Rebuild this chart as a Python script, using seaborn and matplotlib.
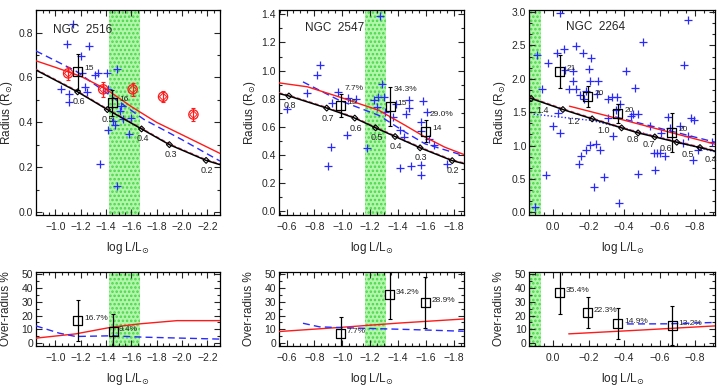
import matplotlib
matplotlib.use("Agg")
import matplotlib.pyplot as plt
from matplotlib.ticker import MultipleLocator, AutoMinorLocator
import seaborn as sns

# ---------------- NGC 2516 ----------------
cross_x_2516 = [-1.139, -1.095, -1.267, -1.198, -1.211, -1.314, -1.339, -1.404, -1.488, -1.044,
                -1.108, -1.108, -1.237, -1.249, -1.416, -1.519, -1.506, -1.596, -1.458, -1.468,
                -1.532, -1.416, -1.584, -1.352, -1.486]
cross_y_2516 = [0.838, 0.748, 0.738, 0.696, 0.618, 0.610, 0.618, 0.618, 0.639, 0.547,
                0.528, 0.492, 0.559, 0.535, 0.550, 0.475, 0.450, 0.420, 0.405, 0.390,
                0.413, 0.364, 0.350, 0.215, 0.118]
lit_x_2516 = [-1.10, -1.377, -1.61, -1.85, -2.09]
lit_y_2516 = [0.618, 0.547, 0.547, 0.514, 0.435]
lit_err_2516 = [0.03, 0.035, 0.03, 0.025, 0.03]
sq_x_2516 = [-1.175, -1.45]
sq_y_2516 = [0.626, 0.487]
sq_err_2516 = [0.08, 0.058]
sq_n_2516 = ["15", "16"]
mod_x_2516 = [-0.846, -1.175, -1.41, -1.68, -1.90, -2.19, -2.30]
mod_y_2516 = [0.633, 0.536, 0.457, 0.371, 0.301, 0.231, 0.212]
mass_2516 = ["0.6", "0.5", "0.4", "0.3", "0.2"]
red_x_2516 = [-0.846, -1.0, -1.2, -1.4, -1.6, -1.8, -2.0, -2.3]
red_y_2516 = [0.674, 0.645, 0.605, 0.548, 0.470, 0.400, 0.345, 0.262]
blue_x_2516 = [-0.846, -1.16, -1.44, -1.70, -2.0, -2.3]
blue_y_2516 = [0.718, 0.629, 0.517, 0.413, 0.323, 0.228]
band_2516 = (-1.42, -1.67)
osq_y_2516 = [16.3, 8.4]
osq_x_2516 = [-1.177, -1.455]
osq_err_2516 = [15.0, 12.5]
opct_2516 = ["16.7%", "9.4%"]
ored_x_2516 = [-0.846, -1.16, -1.44, -1.67, -1.96, -2.3]
ored_y_2516 = [3.6, 6.7, 11.5, 14.0, 16.3, 16.3]
oblue_x_2516 = [-0.846, -1.03, -1.16, -1.44, -1.70, -2.3]
oblue_y_2516 = [12.5, 7.2, 4.8, 5.3, 4.3, 2.9]

# ---------------- NGC 2547 ----------------
cross_x_2547 = [-1.271, -0.839, -0.822, -0.747, -0.605, -0.966, -0.924, -1.042, -1.10, -1.03,
                -0.917, -0.90, -1.179, -1.226, -1.255, -1.283, -1.302, -1.248, -1.307, -1.361,
                -1.385, -1.479, -1.475, -1.456, -1.415, -1.444, -1.415, -1.491, -1.579, -1.605,
                -1.562, -1.567, -1.562, -1.562, -1.621, -1.657, -1.751]
cross_y_2547 = [1.388, 1.043, 0.972, 0.844, 0.725, 0.849, 0.773, 0.808, 0.801, 0.540,
                0.456, 0.321, 0.449, 0.794, 0.813, 0.903, 0.813, 0.742, 0.706, 0.670,
                0.761, 0.794, 0.734, 0.689, 0.580, 0.528, 0.309, 0.321, 0.784, 0.706,
                0.635, 0.570, 0.333, 0.261, 0.516, 0.473, 0.338]
sq_x_2547 = [-0.988, -1.342, -1.598]
sq_y_2547 = [0.753, 0.746, 0.571]
sq_err_2547 = [0.083, 0.14, 0.075]
sq_n_2547 = ["15", "15", "14"]
sq_pct_2547 = ["7.7%", "34.3%", "29.0%"]
mod_x_2547 = [-0.546, -0.617, -0.888, -1.089, -1.238, -1.378, -1.557, -1.787, -1.87]
mod_y_2547 = [0.837, 0.820, 0.734, 0.663, 0.594, 0.532, 0.452, 0.361, 0.340]
mass_2547 = ["0.8", "0.7", "0.6", "0.5", "0.4", "0.3", "0.2"]
red_x_2547 = [-0.546, -0.75, -0.978, -1.262, -1.451, -1.593, -1.735, -1.87]
red_y_2547 = [0.913, 0.885, 0.813, 0.718, 0.611, 0.528, 0.456, 0.405]
blue_x_2547 = [-0.718, -0.978, -1.262, -1.451, -1.593, -1.87]
blue_y_2547 = [0.920, 0.789, 0.682, 0.563, 0.480, 0.397]
band_2547 = (-1.16, -1.31)
osq_x_2547 = [-0.99, -1.34, -1.595]
osq_y_2547 = [6.7, 35.3, 29.3]
osq_err_2547 = [12.0, 17.5, 18.5]
opct_2547 = ["7.7%", "34.2%", "28.9%"]
ored_x_2547 = [-0.548, -1.0, -1.4, -1.87]
ored_y_2547 = [8.4, 11.5, 14.5, 17.5]
oblue_x_2547 = [-0.718, -0.836, -1.0, -1.21, -1.5, -1.87]
oblue_y_2547 = [14.4, 11.8, 11.2, 10.6, 9.8, 8.6]

# ---------------- NGC 2264 ----------------
cross_x_2264 = [-0.039, 0.092, 0.03, -0.022, -0.064, -0.129, -0.167, -0.213, -0.069, -0.11,
                -0.204, -0.21, -0.251, -0.11, -0.088, -0.129, -0.152, -0.185, -0.176, 0.062,
                -0.307, -0.331, -0.358, -0.03, -0.002, -0.039, -0.335, -0.208, -0.242, -0.264,
                -0.185, -0.157, -0.144, -0.288, -0.228, 0.043, -0.369, 0.105, -0.25, -0.31,
                -0.356, -0.375,
                -0.762, -0.506, -0.74, -0.412, -0.463, -0.449, -0.481, -0.44, -0.547, -0.646,
                -0.659, -0.607, -0.715, -0.777, -0.794, -0.762, -0.893, -0.818, -0.787, -0.566,
                -0.585, -0.60, -0.631, -0.575, -0.476, -0.734]
cross_y_2264 = [2.99, 2.35, 2.24, 2.38, 2.44, 2.49, 2.38, 2.31, 2.13, 2.12,
                2.15, 1.97, 1.96, 1.96, 1.84, 1.85, 1.76, 1.82, 1.70, 1.85,
                1.69, 1.73, 1.73, 1.49, 1.29, 1.19, 1.14, 1.01, 1.03, 0.93,
                0.93, 0.85, 0.73, 0.53, 0.38, 0.56, 0.14, 0.08, 1.77, 1.42,
                1.54, 1.62,
                2.88, 2.55, 2.21, 2.12, 1.86, 1.48, 1.48, 1.44, 1.29, 1.43,
                1.26, 1.19, 1.29, 1.42, 1.39, 1.14, 1.06, 0.94, 0.78, 0.89,
                0.89, 0.89, 0.84, 0.64, 0.57, 1.04]
sq_x_2264 = [-0.036, -0.195, -0.365, -0.669]
sq_y_2264 = [2.11, 1.735, 1.477, 1.20]
sq_err_2264 = [0.25, 0.16, 0.14, 0.29]
sq_n_2264 = ["21", "20", "20", "20"]
mod_x_2264 = [0.135, 0.124, -0.055, -0.22, -0.386, -0.479, -0.573, -0.697, -0.828, -0.915]
mod_y_2264 = [1.71, 1.705, 1.54, 1.40, 1.265, 1.19, 1.13, 1.05, 0.97, 0.915]
mass_2264 = ["1.4", "1.2", "1.0", "0.8", "0.7", "0.6", "0.5", "0.4"]
red_x_2264 = [-0.092, -0.4, -0.915]
red_y_2264 = [1.59, 1.38, 1.02]
blue_x_2264 = [-0.35, -0.6, -0.915]
blue_y_2264 = [1.43, 1.26, 1.05]
dot_x_2264 = [0.11, -0.22, -0.40, -0.915]
dot_y_2264 = [1.47, 1.375, 1.26, 0.905]
band_2264 = (0.135, 0.066)
osq_x_2264 = [-0.036, -0.195, -0.365, -0.672]
osq_y_2264 = [36.5, 22.1, 14.4, 12.5]
osq_err_2264 = [15.5, 11.5, 11.2, 14.2]
opct_2264 = ["35.4%", "22.3%", "14.9%", "13.2%"]
ored_x_2264 = [-0.088, -0.5, -0.915]
ored_y_2264 = [6.7, 9.5, 12.5]
oblue_x_2264 = [-0.416, -0.65, -0.915]
oblue_y_2264 = [13.9, 14.0, 15.0]

sns.set_theme(style="ticks")
plt.rcParams["font.family"] = ["Liberation Sans", "DejaVu Sans"]
plt.rcParams["mathtext.fontset"] = "dejavusans"
plt.rcParams["hatch.linewidth"] = 1.2

BLUE = "#2a2aff"
RED = "#ff1a1a"
PT = 0.72  # points per pixel at dpi 100

fig = plt.figure(figsize=(7.19, 3.86), dpi=100)


def style_axes(ax, xlim, ylim, ymajor, yminor_n):
    ax.set_xlim(*xlim)
    ax.set_ylim(*ylim)
    ax.xaxis.set_major_locator(MultipleLocator(0.2))
    ax.xaxis.set_minor_locator(AutoMinorLocator(4))
    ax.yaxis.set_major_locator(MultipleLocator(ymajor))
    ax.yaxis.set_minor_locator(AutoMinorLocator(yminor_n))
    ax.tick_params(which="both", direction="in", top=True, right=True, labelsize=7.5,
                   width=0.8)
    ax.tick_params(axis="x", pad=5)
    ax.tick_params(axis="y", pad=2)
    ax.tick_params(which="major", length=4)
    ax.tick_params(which="minor", length=2)
    for s in ax.spines.values():
        s.set_linewidth(0.9)
        s.set_color("black")
    ax.set_xlabel(r"log L/L$_{\odot}$", fontsize=8.5, labelpad=6)


def band(ax, b):
    ax.axvspan(b[0], b[1], facecolor="#b4f5ad", edgecolor="#46d846", hatch="....",
               lw=0, zorder=0)


def errbars(ax, x, y, err, color="black"):
    ax.errorbar(x, y, yerr=err, fmt="none", ecolor=color, elinewidth=0.9,
                capsize=1.5, capthick=0.8, zorder=4)


def squares(ax, x, y):
    sns.scatterplot(x=x, y=y, marker="s", s=42, facecolor="none", edgecolor="black",
                    linewidth=0.9, ax=ax, zorder=5)


def top_panel(rect, name, namepos, cx, cy, mx, my, masses, mass_off, rx, ry, bx, by,
              b, sx, sy, se, counts, xlim, ylim, ymajor, yminor_n):
    ax = fig.add_axes(rect)
    band(ax, b)
    sns.scatterplot(x=cx, y=cy, marker="+", color=BLUE, s=36, linewidth=0.9, ax=ax, zorder=2)
    sns.lineplot(x=bx, y=by, sort=False, estimator=None, color=BLUE, lw=1.0,
                 linestyle=(0, (5, 3)), ax=ax, zorder=3)
    sns.lineplot(x=rx, y=ry, sort=False, estimator=None, color=RED, lw=1.0, ax=ax, zorder=3)
    sns.lineplot(x=mx, y=[v + 0.004 * ylim[1] for v in my], sort=False, estimator=None,
                 color="#e05070", lw=0.9, linestyle=(0, (3, 2)), ax=ax, zorder=3)
    sns.lineplot(x=mx, y=my, sort=False, estimator=None, color="black", lw=1.1, ax=ax, zorder=3)
    dx = mx[1:1 + len(masses)]
    dy = my[1:1 + len(masses)]
    sns.scatterplot(x=dx, y=dy, marker="D", s=9, facecolor="none", edgecolor="black",
                    linewidth=0.8, ax=ax, zorder=4)
    for xv, yv, m in zip(dx, dy, masses):
        ax.annotate(m, (xv, yv), xytext=(mass_off[0] * PT, mass_off[1] * PT),
                    textcoords="offset points", ha="center", va="center", fontsize=6.5)
    errbars(ax, sx, sy, se)
    squares(ax, sx, sy)
    for xv, yv, n in zip(sx, sy, counts):
        ax.annotate(n, (xv, yv), xytext=(7 * PT, 3 * PT), textcoords="offset points",
                    ha="left", va="center", fontsize=6)
    ax.text(namepos[0], namepos[1], name, transform=ax.transAxes, fontsize=8.5,
            ha="left", va="center")
    style_axes(ax, xlim, ylim, ymajor, yminor_n)
    ax.set_ylabel(r"Radius (R$_{\odot}$)", fontsize=8.5, va="center")
    ax.yaxis.set_label_coords(-0.155, 0.5)
    return ax


def bottom_panel(rect, b, sx, sy, se, pcts, rx, ry, bx, by, xlim):
    ax = fig.add_axes(rect)
    band(ax, b)
    sns.lineplot(x=rx, y=ry, sort=False, estimator=None, color=RED, lw=1.0, ax=ax, zorder=3)
    sns.lineplot(x=bx, y=by, sort=False, estimator=None, color=BLUE, lw=1.0,
                 linestyle=(0, (5, 3)), ax=ax, zorder=3)
    errbars(ax, sx, sy, se)
    squares(ax, sx, sy)
    for xv, yv, p in zip(sx, sy, pcts):
        ax.annotate(p, (xv, yv), xytext=(6 * PT, 2 * PT), textcoords="offset points",
                    ha="left", va="center", fontsize=6)
    style_axes(ax, xlim, (-2, 51.5), 10, 2)
    ax.set_ylabel("Over-radius %", fontsize=8.5, va="center")
    ax.yaxis.set_label_coords(-0.16, 0.5)
    return ax


# top row
ax1 = top_panel([0.050, 0.443, 0.256, 0.531], "NGC  2516", (0.09, 0.905),
                cross_x_2516, cross_y_2516, mod_x_2516, mod_y_2516, mass_2516, (1, -10),
                red_x_2516, red_y_2516, blue_x_2516, blue_y_2516, band_2516,
                sq_x_2516, sq_y_2516, sq_err_2516, sq_n_2516,
                (-0.846, -2.30), (-0.012, 0.9), 0.2, 2)
errbars(ax1, lit_x_2516, lit_y_2516, lit_err_2516, color=RED)
sns.scatterplot(x=lit_x_2516, y=lit_y_2516, marker="o", s=45, facecolor="none",
                edgecolor=RED, linewidth=0.9, ax=ax1, zorder=5)
sns.scatterplot(x=lit_x_2516, y=lit_y_2516, marker="D", s=14, facecolor="none",
                edgecolor=RED, linewidth=0.7, ax=ax1, zorder=5)

ax2 = top_panel([0.388, 0.443, 0.257, 0.531], "NGC  2547", (0.14, 0.91),
                cross_x_2547, cross_y_2547, mod_x_2547, mod_y_2547, mass_2547, (1, -10),
                red_x_2547, red_y_2547, blue_x_2547, blue_y_2547, band_2547,
                sq_x_2547, sq_y_2547, sq_err_2547, sq_n_2547,
                (-0.546, -1.87), (-0.025, 1.43), 0.2, 2)
for xv, yv, p in zip(sq_x_2547, sq_y_2547, sq_pct_2547):
    ax2.annotate(p, (xv, yv), xytext=(4 * PT, 17 * PT), textcoords="offset points",
                 ha="left", va="center", fontsize=6)

ax3 = top_panel([0.736, 0.443, 0.259, 0.531], "NGC  2264", (0.20, 0.915),
                cross_x_2264, cross_y_2264, mod_x_2264, mod_y_2264, mass_2264, (11, -12),
                red_x_2264, red_y_2264, blue_x_2264, blue_y_2264, band_2264,
                sq_x_2264, sq_y_2264, sq_err_2264, sq_n_2264,
                (0.135, -0.915), (-0.04, 3.03), 0.5, 3)
sns.lineplot(x=dot_x_2264, y=dot_y_2264, sort=False, estimator=None, color=BLUE, lw=1.0,
             linestyle=(0, (1, 1.5)), ax=ax3, zorder=2)

# bottom row
bottom_panel([0.050, 0.104, 0.256, 0.191], band_2516, osq_x_2516, osq_y_2516, osq_err_2516,
             opct_2516, ored_x_2516, ored_y_2516, oblue_x_2516, oblue_y_2516, (-0.846, -2.30))
bottom_panel([0.388, 0.104, 0.257, 0.191], band_2547, osq_x_2547, osq_y_2547, osq_err_2547,
             opct_2547, ored_x_2547, ored_y_2547, oblue_x_2547, oblue_y_2547, (-0.546, -1.87))
bottom_panel([0.736, 0.104, 0.259, 0.191], band_2264, osq_x_2264, osq_y_2264, osq_err_2264,
             opct_2264, ored_x_2264, ored_y_2264, oblue_x_2264, oblue_y_2264, (0.135, -0.915))

plt.savefig("out.png", dpi=100)
